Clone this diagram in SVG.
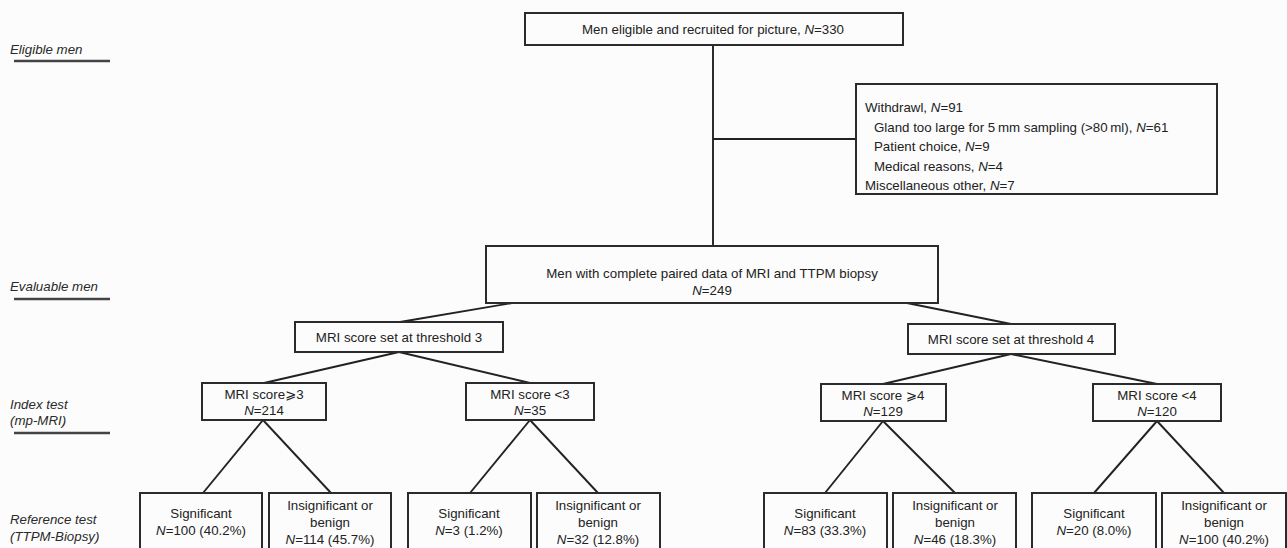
<svg xmlns="http://www.w3.org/2000/svg" width="1287" height="548" viewBox="0 0 1287 548">
<style>
.box{fill:none;stroke:#2b2b2b;stroke-width:2}
.t{font-family:"Liberation Sans",Arial,"DejaVu Sans",sans-serif;font-size:13.3px;fill:#222}
.c{text-anchor:middle}
.leg{font-style:italic;fill:#2a2a2a}
.i{font-style:italic}
.conn{stroke:#222;stroke-width:1.9;fill:none}
.legline{stroke:#444;stroke-width:2.4}
</style>
<rect x="0" y="0" width="1287" height="548" fill="#fcfcfc"/>

<g id="legend">
  <text class="t leg" x="10" y="54">Eligible men</text>
  <line class="legline" x1="14" y1="61" x2="110" y2="61"/>
  <text class="t leg" x="10" y="291">Evaluable men</text>
  <line class="legline" x1="14" y1="299" x2="110" y2="299"/>
  <text class="t leg" x="10" y="409">Index test</text>
  <text class="t leg" x="10" y="425">(mp-MRI)</text>
  <line class="legline" x1="14" y1="433" x2="110" y2="433"/>
  <text class="t leg" x="10" y="524">Reference test</text>
  <text class="t leg" x="10" y="541">(TTPM-Biopsy)</text>
</g>

<g id="connectors">
  <line class="conn" x1="713" y1="45" x2="713" y2="246"/>
  <line class="conn" x1="713" y1="139" x2="856" y2="139"/>
  <line class="conn" x1="512" y1="303" x2="400" y2="322"/>
  <line class="conn" x1="907" y1="303" x2="1011" y2="324"/>
  <line class="conn" x1="399" y1="352" x2="264" y2="383"/>
  <line class="conn" x1="399" y1="352" x2="530" y2="383"/>
  <line class="conn" x1="1011" y1="354" x2="883" y2="384"/>
  <line class="conn" x1="1011" y1="354" x2="1157" y2="384"/>
  <line class="conn" x1="263" y1="420" x2="203" y2="493"/>
  <line class="conn" x1="263" y1="420" x2="331" y2="493"/>
  <line class="conn" x1="530" y1="420" x2="470" y2="493"/>
  <line class="conn" x1="530" y1="420" x2="598" y2="493"/>
  <line class="conn" x1="883" y1="421" x2="825" y2="493"/>
  <line class="conn" x1="883" y1="421" x2="955" y2="493"/>
  <line class="conn" x1="1157" y1="421" x2="1094" y2="493"/>
  <line class="conn" x1="1157" y1="421" x2="1224" y2="493"/>
</g>

<g id="n-eligible">
  <rect class="box" x="525" y="13" width="378" height="32"/>
  <text class="t c" x="713" y="34">Men eligible and recruited for picture, <tspan class="i">N</tspan>=330</text>
</g>

<g id="n-withdrawal">
  <rect class="box" x="856" y="84" width="361" height="110"/>
  <text class="t" x="865" y="112">Withdrawl, <tspan class="i">N</tspan>=91</text>
  <text class="t" x="874" y="132">Gland too large for 5&#8201;mm sampling (&gt;80&#8201;ml), <tspan class="i">N</tspan>=61</text>
  <text class="t" x="874" y="151">Patient choice, <tspan class="i">N</tspan>=9</text>
  <text class="t" x="874" y="171">Medical reasons, <tspan class="i">N</tspan>=4</text>
  <text class="t" x="865" y="190">Miscellaneous other, <tspan class="i">N</tspan>=7</text>
</g>

<g id="n-evaluable">
  <rect class="box" x="486" y="246" width="452" height="57"/>
  <text class="t c" x="712" y="278">Men with complete paired data of MRI and TTPM biopsy</text>
  <text class="t c" x="712" y="295"><tspan class="i">N</tspan>=249</text>
</g>

<g id="n-thr3">
  <rect class="box" x="295" y="322" width="208" height="30"/>
  <text class="t c" x="399" y="342">MRI score set at threshold 3</text>
</g>
<g id="n-thr4">
  <rect class="box" x="908" y="324" width="207" height="30"/>
  <text class="t c" x="1011" y="344">MRI score set at threshold 4</text>
</g>

<g id="n-ge3">
  <rect class="box" x="202" y="383" width="124" height="37"/>
  <text class="t c" x="264" y="399">MRI score⩾3</text>
  <text class="t c" x="264" y="415"><tspan class="i">N</tspan>=214</text>
</g>
<g id="n-lt3">
  <rect class="box" x="466" y="383" width="128" height="37"/>
  <text class="t c" x="530" y="399">MRI score &lt;3</text>
  <text class="t c" x="530" y="415"><tspan class="i">N</tspan>=35</text>
</g>
<g id="n-ge4">
  <rect class="box" x="821" y="384" width="125" height="37"/>
  <text class="t c" x="883" y="400">MRI score ⩾4</text>
  <text class="t c" x="883" y="416"><tspan class="i">N</tspan>=129</text>
</g>
<g id="n-lt4">
  <rect class="box" x="1093" y="384" width="128" height="37"/>
  <text class="t c" x="1157" y="400">MRI score &lt;4</text>
  <text class="t c" x="1157" y="416"><tspan class="i">N</tspan>=120</text>
</g>

<g id="n-sig1">
  <rect class="box" x="140" y="493" width="122" height="70"/>
  <text class="t c" x="201" y="518">Significant</text>
  <text class="t c" x="201" y="535"><tspan class="i">N</tspan>=100 (40.2%)</text>
</g>
<g id="n-ins1">
  <rect class="box" x="269" y="493" width="122" height="70"/>
  <text class="t c" x="330" y="510">Insignificant or</text>
  <text class="t c" x="330" y="527">benign</text>
  <text class="t c" x="330" y="544"><tspan class="i">N</tspan>=114 (45.7%)</text>
</g>
<g id="n-sig2">
  <rect class="box" x="408" y="493" width="123" height="70"/>
  <text class="t c" x="469" y="518">Significant</text>
  <text class="t c" x="469" y="535"><tspan class="i">N</tspan>=3 (1.2%)</text>
</g>
<g id="n-ins2">
  <rect class="box" x="537" y="493" width="123" height="70"/>
  <text class="t c" x="598" y="510">Insignificant or</text>
  <text class="t c" x="598" y="527">benign</text>
  <text class="t c" x="598" y="544"><tspan class="i">N</tspan>=32 (12.8%)</text>
</g>
<g id="n-sig3">
  <rect class="box" x="764" y="493" width="123" height="70"/>
  <text class="t c" x="825" y="518">Significant</text>
  <text class="t c" x="825" y="535"><tspan class="i">N</tspan>=83 (33.3%)</text>
</g>
<g id="n-ins3">
  <rect class="box" x="893" y="493" width="123" height="70"/>
  <text class="t c" x="955" y="510">Insignificant or</text>
  <text class="t c" x="955" y="527">benign</text>
  <text class="t c" x="955" y="544"><tspan class="i">N</tspan>=46 (18.3%)</text>
</g>
<g id="n-sig4">
  <rect class="box" x="1032" y="493" width="124" height="70"/>
  <text class="t c" x="1094" y="518">Significant</text>
  <text class="t c" x="1094" y="535"><tspan class="i">N</tspan>=20 (8.0%)</text>
</g>
<g id="n-ins4">
  <rect class="box" x="1162" y="493" width="124" height="70"/>
  <text class="t c" x="1224" y="510">Insignificant or</text>
  <text class="t c" x="1224" y="527">benign</text>
  <text class="t c" x="1224" y="544"><tspan class="i">N</tspan>=100 (40.2%)</text>
</g>
</svg>
